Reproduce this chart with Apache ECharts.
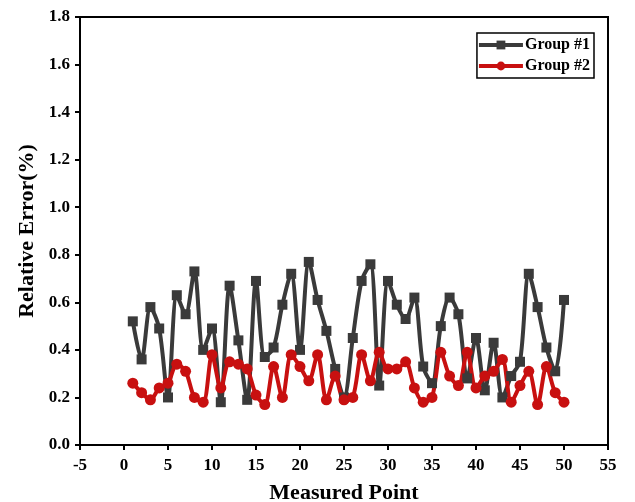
<!DOCTYPE html>
<html>
<head>
<meta charset="utf-8">
<script src="https://cdn.jsdelivr.net/npm/echarts@6/dist/echarts.min.js"></script>
<style>
  html, body { margin: 0; padding: 0; background: #fff; }
  #chart { width: 635px; height: 502px; }
</style>
</head>
<body>
<div id="chart"></div>
<script>
// measured points 1..50
const points = [];
for (let i = 1; i <= 50; i++) points.push(i);

const group1 = [0.52, 0.36, 0.58, 0.49, 0.20, 0.63, 0.55, 0.73, 0.40, 0.49,
  0.18, 0.67, 0.44, 0.19, 0.69, 0.37, 0.41, 0.59, 0.72, 0.40,
  0.77, 0.61, 0.48, 0.32, 0.20, 0.45, 0.69, 0.76, 0.25, 0.69,
  0.59, 0.53, 0.62, 0.33, 0.26, 0.50, 0.62, 0.55, 0.28, 0.45,
  0.23, 0.43, 0.20, 0.29, 0.35, 0.72, 0.58, 0.41, 0.31, 0.61];

const group2 = [0.26, 0.22, 0.19, 0.24, 0.26, 0.34, 0.31, 0.20, 0.18, 0.38,
  0.24, 0.35, 0.34, 0.32, 0.21, 0.17, 0.33, 0.20, 0.38, 0.33,
  0.27, 0.38, 0.19, 0.29, 0.19, 0.20, 0.38, 0.27, 0.39, 0.32,
  0.32, 0.35, 0.24, 0.18, 0.20, 0.39, 0.29, 0.25, 0.39, 0.24,
  0.29, 0.31, 0.36, 0.18, 0.25, 0.31, 0.17, 0.33, 0.22, 0.18];

const seriesNames = ["Group #1", "Group #2"];

const font = "'Liberation Serif', 'Times New Roman', serif";

let chart = echarts.init(document.getElementById("chart"));
chart.setOption({
  animation: false,
  grid: {
    left: 80,
    right: 27,
    top: 17,
    bottom: 57,
    outerBoundsMode: "none",
    show: true,
    borderColor: "#000",
    borderWidth: 2
  },
  legend: {
    orient: "vertical",
    right: 41,
    top: 33,
    padding: [4, 4, 4, 0],
    itemGap: 5,
    itemWidth: 44,
    itemHeight: 11,
    borderColor: "#000",
    borderWidth: 1.5,
    textStyle: { fontFamily: font, fontWeight: "bold", fontSize: 16, color: "#000", padding: [0, 0, 0, -3] },
    lineStyle: { width: 4 },
    data: seriesNames
  },
  xAxis: {
    type: "value",
    min: -5,
    max: 55,
    interval: 5,
    name: "Measured Point",
    nameLocation: "middle",
    nameGap: 37,
    nameTextStyle: { fontFamily: font, fontWeight: "bold", fontSize: 22, color: "#000" },
    axisLine: { show: true, onZero: false, lineStyle: { color: "#000", width: 2 } },
    axisTick: { show: true, length: 5, lineStyle: { color: "#000", width: 2 } },
    axisLabel: { fontFamily: font, fontWeight: "bold", fontSize: 17, color: "#000", margin: 12 },
    splitLine: { show: false }
  },
  yAxis: {
    type: "value",
    min: 0,
    max: 1.8,
    interval: 0.2,
    name: "Relative Error(%)",
    nameLocation: "middle",
    nameGap: 42,
    nameTextStyle: { fontFamily: font, fontWeight: "bold", fontSize: 22, color: "#000" },
    axisLine: { show: true, onZero: false, lineStyle: { color: "#000", width: 2 } },
    axisTick: { show: true, length: 5, lineStyle: { color: "#000", width: 2 } },
    axisLabel: {
      fontFamily: font, fontWeight: "bold", fontSize: 17, color: "#000", margin: 10,
      formatter: v => v.toFixed(1)
    },
    splitLine: { show: false }
  },
  series: [
    {
      name: seriesNames[0],
      type: "line",
      smooth: 0.3,
      data: points.map((p, i) => [p, group1[i]]),
      symbol: "rect",
      symbolSize: 10,
      color: "#3a3a3a",
      lineStyle: { width: 4, color: "#3a3a3a" },
      itemStyle: { color: "#3a3a3a" }
    },
    {
      name: seriesNames[1],
      type: "line",
      smooth: 0.3,
      data: points.map((p, i) => [p, group2[i]]),
      symbol: "circle",
      symbolSize: 11,
      color: "#c81010",
      lineStyle: { width: 4, color: "#c81010" },
      itemStyle: { color: "#c81010" }
    }
  ]
});
</script>
</body>
</html>
